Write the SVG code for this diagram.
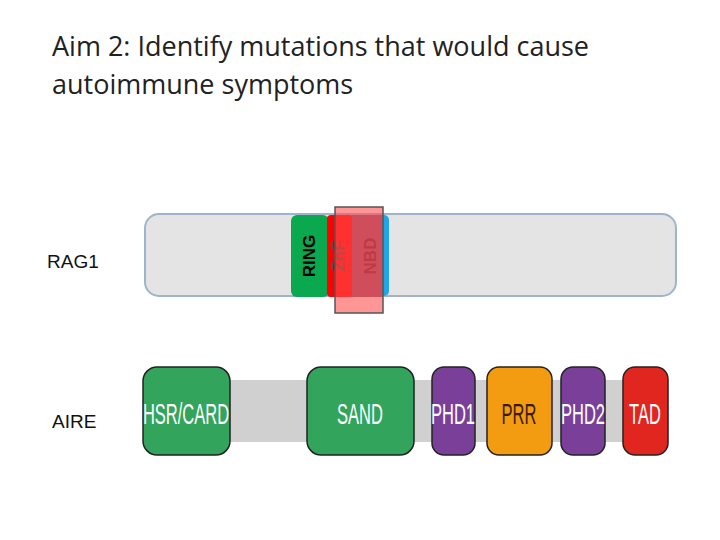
<svg xmlns="http://www.w3.org/2000/svg" width="720" height="540" viewBox="0 0 720 540">
<style>
.t{font-family:"Open Sans","Liberation Sans",sans-serif;font-size:27px;fill:#222}
.l{font-family:"Liberation Sans",Arial,sans-serif;font-size:19px;fill:#111}
.d{font-family:"Liberation Sans",Arial,sans-serif;font-size:30px;text-anchor:middle}
.v{font-family:"Liberation Sans",Arial,sans-serif;font-size:17px;font-weight:bold;text-anchor:middle}
.dom{stroke:#222;stroke-width:1.5}
</style>
<rect width="720" height="540" fill="#fff"/>
<text class="t" x="52" y="56">Aim 2: Identify mutations that would cause</text>
<text class="t" x="52" y="94">autoimmune symptoms</text>
<text class="l" x="47" y="268">RAG1</text>
<text class="l" x="52" y="428">AIRE</text>
<g id="rag1">
<rect x="145" y="214" width="531" height="82" rx="14" fill="#e4e4e4" stroke="#9fb3cc" stroke-width="2"/>
<rect x="376" y="215" width="13" height="81" rx="5" fill="#1ea6e6"/>
<rect x="291" y="215" width="38" height="82" rx="6" fill="#0aa84f"/>
<rect x="327" y="215" width="27" height="82" rx="4" fill="#ff0000"/>
<rect x="352" y="215" width="30" height="82" fill="#8b4a6f"/>
<text class="v" transform="translate(315 256) rotate(-90)">RING</text>
<text class="v" fill="#444" transform="translate(344 256) rotate(-90)">ZnF</text>
<text class="v" fill="#5a1a30" transform="translate(376 256) rotate(-90)">NBD</text>
<rect x="335" y="207" width="48" height="106" fill="#ff5050" fill-opacity="0.6" stroke="#555" stroke-width="1.5"/>
</g>
<g id="aire">
<rect x="200" y="380" width="450" height="62" fill="#d0d0d0"/>
<g id="hsr"><rect class="dom" x="143" y="367" width="87" height="88" rx="14" fill="#33a45c"/><text class="d" fill="#fff" transform="translate(186 424) scale(0.55 1)">HSR/CARD</text></g>
<g id="sand"><rect class="dom" x="307" y="367" width="107" height="88" rx="14" fill="#33a45c"/><text class="d" fill="#fff" transform="translate(360 424) scale(0.55 1)">SAND</text></g>
<g id="phd1"><rect class="dom" x="432" y="367" width="43" height="88" rx="12" fill="#7a4099"/><text class="d" fill="#fff" transform="translate(453 424) scale(0.55 1)">PHD1</text></g>
<g id="prr"><rect class="dom" x="487" y="367" width="65" height="88" rx="12" fill="#f39c12"/><text class="d" fill="#3a1a00" transform="translate(519 424) scale(0.55 1)">PRR</text></g>
<g id="phd2"><rect class="dom" x="561" y="367" width="44" height="88" rx="12" fill="#7a4099"/><text class="d" fill="#fff" transform="translate(583 424) scale(0.55 1)">PHD2</text></g>
<g id="tad"><rect class="dom" x="623" y="367" width="45" height="88" rx="12" fill="#e0261f"/><text class="d" fill="#fff" transform="translate(645 424) scale(0.55 1)">TAD</text></g>
</g>
<g id="connectors"/>
</svg>
